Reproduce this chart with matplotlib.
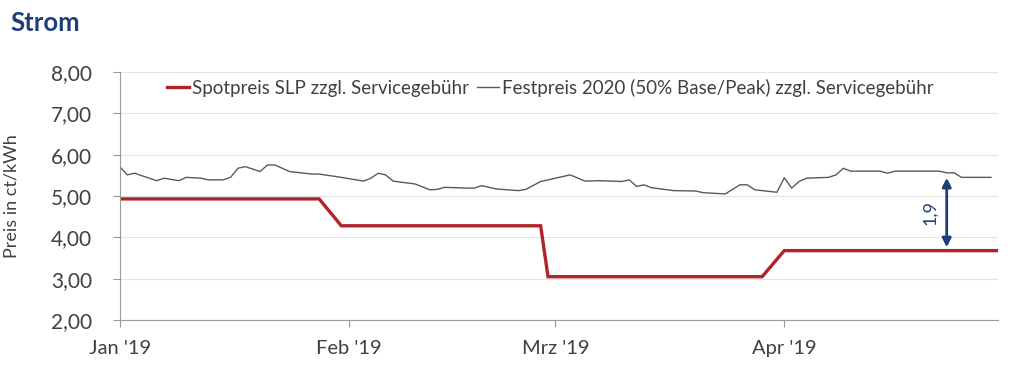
import pandas as pd
import matplotlib
matplotlib.use("Agg")
import matplotlib.pyplot as plt
from matplotlib.ticker import FuncFormatter

# ── Data ─────────────────────────────────────
spot_dates = ["2019-01-01", "2019-01-28", "2019-01-31", "2019-02-27",
              "2019-02-28", "2019-03-29", "2019-04-01", "2019-04-30"]
spot_values = [4.93, 4.93, 4.28, 4.28, 3.05, 3.05, 3.68, 3.68]

fest_dates = [
    "2019-01-01", "2019-01-02", "2019-01-03", "2019-01-06", "2019-01-07",
    "2019-01-09", "2019-01-10", "2019-01-12", "2019-01-13", "2019-01-15",
    "2019-01-16", "2019-01-17", "2019-01-18", "2019-01-20", "2019-01-21",
    "2019-01-22", "2019-01-24", "2019-01-27", "2019-01-28", "2019-01-31",
    "2019-02-03", "2019-02-04", "2019-02-05", "2019-02-06", "2019-02-07",
    "2019-02-10", "2019-02-12", "2019-02-13", "2019-02-14", "2019-02-17",
    "2019-02-18", "2019-02-19", "2019-02-21", "2019-02-24", "2019-02-25",
    "2019-02-27", "2019-03-01", "2019-03-03", "2019-03-05", "2019-03-07",
    "2019-03-10", "2019-03-11", "2019-03-12", "2019-03-13", "2019-03-14",
    "2019-03-17", "2019-03-20", "2019-03-21", "2019-03-24", "2019-03-26",
    "2019-03-27", "2019-03-28", "2019-03-31", "2019-04-01", "2019-04-02",
    "2019-04-03", "2019-04-04", "2019-04-07", "2019-04-08", "2019-04-09",
    "2019-04-10", "2019-04-14", "2019-04-15", "2019-04-16", "2019-04-22",
    "2019-04-23", "2019-04-24", "2019-04-25", "2019-04-29",
]
fest_values = [
    5.71, 5.51, 5.55, 5.37, 5.43,
    5.37, 5.45, 5.43, 5.39, 5.39,
    5.45, 5.67, 5.71, 5.59, 5.75,
    5.75, 5.59, 5.53, 5.53, 5.45,
    5.36, 5.43, 5.55, 5.51, 5.36,
    5.29, 5.15, 5.16, 5.21, 5.19,
    5.19, 5.25, 5.17, 5.13, 5.16,
    5.35, 5.43, 5.51, 5.36, 5.37,
    5.35, 5.39, 5.23, 5.27, 5.20,
    5.13, 5.12, 5.08, 5.05, 5.27,
    5.27, 5.15, 5.09, 5.44, 5.19,
    5.35, 5.43, 5.45, 5.51, 5.67,
    5.60, 5.60, 5.55, 5.60, 5.60,
    5.56, 5.56, 5.45, 5.45,
]

month_ticks = ["2019-01-01", "2019-02-01", "2019-03-01", "2019-04-01"]
month_labels = ["Jan '19", "Feb '19", "Mrz '19", "Apr '19"]

gap_label = "1,9"
gap_date = "2019-04-23"
gap_top = 5.44
gap_bottom = 3.76

# ── Style ────────────────────────────────────
plt.rcParams["font.family"] = ["Lato", "DejaVu Sans"]
NAVY = "#1f3d7a"
RED = "#b0232b"
GREY = "#5a5a5a"
TXT = "#404040"

fig = plt.figure(figsize=(10.24, 3.78), dpi=100)
ax = fig.add_axes([0.117, 0.153, 0.858, 0.657])

ax.plot(pd.to_datetime(spot_dates), spot_values, color=RED, lw=2.4,
        label="Spotpreis SLP zzgl. Servicegebühr", solid_joinstyle="miter")
ax.plot(pd.to_datetime(fest_dates), fest_values, color=GREY, lw=1.0,
        label="Festpreis 2020 (50% Base/Peak) zzgl. Servicegebühr")

ax.set_ylim(2, 8)
ax.set_yticks([2, 3, 4, 5, 6, 7, 8])
ax.yaxis.set_major_formatter(FuncFormatter(lambda v, p: f"{v:.2f}".replace(".", ",")))
ax.set_xlim(pd.Timestamp("2019-01-01"), pd.Timestamp("2019-04-30"))
ax.set_xticks(pd.to_datetime(month_ticks))
ax.set_xticklabels(month_labels)

ax.grid(axis="y", color="#e4e4e4", lw=0.8)
ax.set_axisbelow(True)
for s in ["top", "right"]:
    ax.spines[s].set_visible(False)
for s in ["left", "bottom"]:
    ax.spines[s].set_color("#999999")
ax.tick_params(axis="both", colors="#999999", labelcolor=TXT, length=5)
ax.tick_params(axis="y", labelsize=15, pad=15)
ax.tick_params(axis="x", labelsize=14.5, pad=9)
ax.set_ylabel("Preis in ct/kWh", color=TXT, fontsize=13)
ax.yaxis.set_label_coords(-0.114, 0.5)

leg = ax.legend(loc="upper center", ncol=2, frameon=False, fontsize=13.5,
                bbox_to_anchor=(0.49, 1.04), handlelength=1.15, handletextpad=0.15,
                columnspacing=0.45)
for t in leg.get_texts():
    t.set_color(TXT)

# gap annotation
gx = pd.Timestamp(gap_date)
ax.annotate("", xy=(gx, gap_bottom), xytext=(gx, gap_top),
            arrowprops=dict(arrowstyle="<|-|>", color=NAVY, lw=2,
                            mutation_scale=13, shrinkA=0, shrinkB=0))
ax.text(gx - pd.Timedelta(days=2.3), (gap_top + gap_bottom) / 2, gap_label,
        rotation=90, color=NAVY, fontsize=13, ha="center", va="center")

fig.text(0.01, 0.94, "Strom", color=NAVY, fontsize=18.5, fontweight="bold",
         ha="left", va="center")

fig.savefig("out.png", dpi=100)
